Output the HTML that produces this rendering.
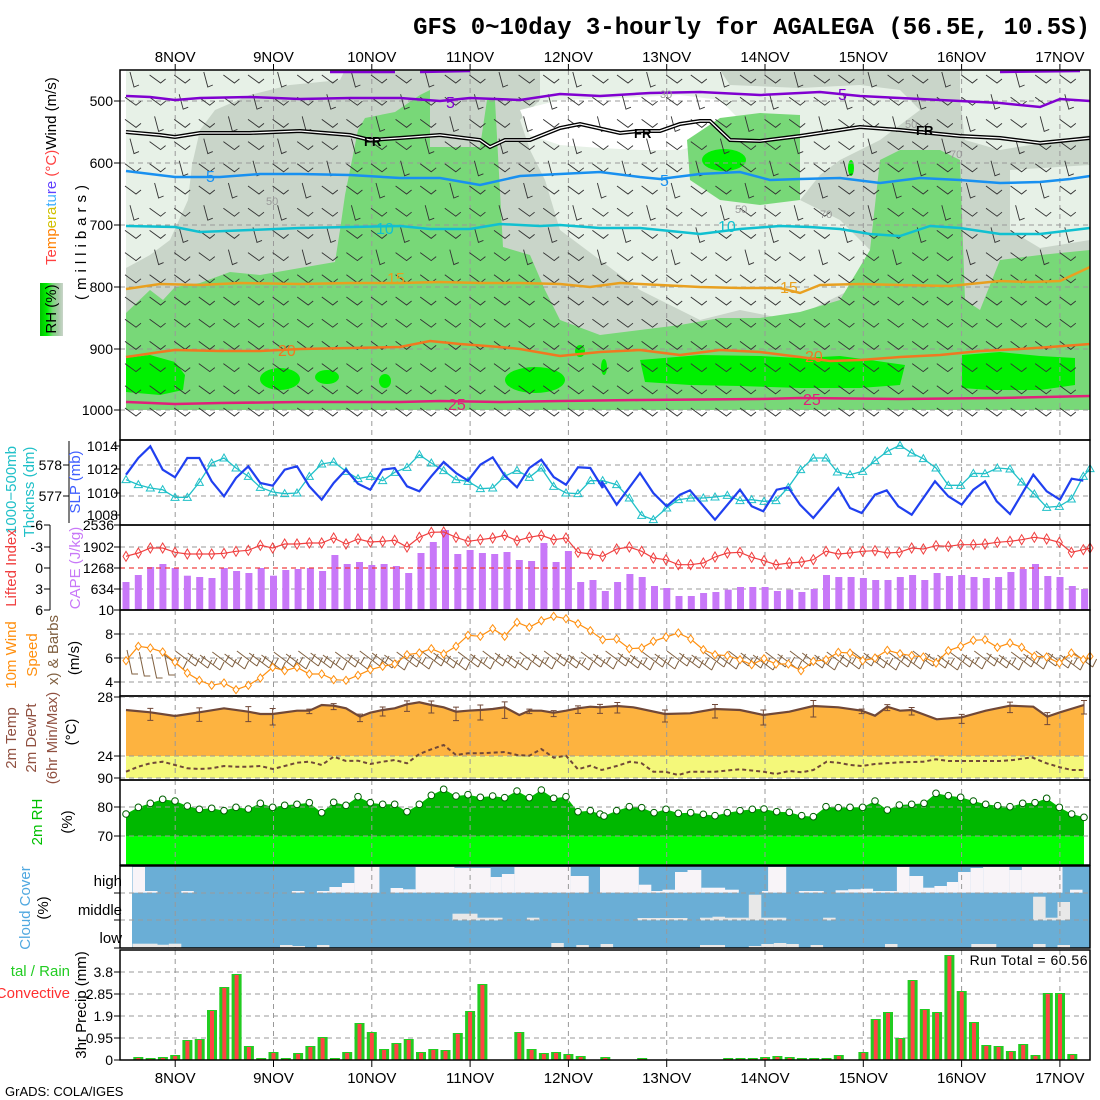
<!DOCTYPE html>
<html><head><meta charset="utf-8">
<style>
html,body{margin:0;padding:0;background:#fff;}
svg{display:block;font-family:"Liberation Sans",sans-serif;}
</style></head>
<body>
<svg id="s" width="1100" height="1100" viewBox="0 0 1100 1100" xmlns="http://www.w3.org/2000/svg">
<rect width="1100" height="1100" fill="#fff"/>
<text x="1090" y="34" text-anchor="end" font-family="Liberation Mono, monospace" font-size="24" font-weight="bold" fill="#000">GFS 0~10day 3-hourly for AGALEGA (56.5E, 10.5S)</text>
<g id="g"></g>
</svg>
<script>
(function(){
var out=[];
function P(s){out.push(s);}
function pts(a){return a.map(function(p){return p[0].toFixed(1)+','+p[1].toFixed(1);}).join(' ');}
function tz(a,ox,oy,sx,sy){return a.map(function(p){return [ox+p[0]/sx, oy+p[1]/sy];});}
function line(a,c,w,extra){P('<polyline points="'+pts(a)+'" fill="none" stroke="'+c+'" stroke-width="'+w+'" '+(extra||'')+'/>');}
function poly(a,c){P('<polygon points="'+pts(a)+'" fill="'+c+'"/>');}
function text(x,y,t,o){o=o||{};P('<text x="'+x+'" y="'+y+'" font-size="'+(o.fs||14)+'" fill="'+(o.c||'#000')+'" text-anchor="'+(o.a||'end')+'"'+(o.ls?' letter-spacing="'+o.ls+'"':'')+'>'+t+'</text>');}
function rtext(x,y,t,c,fs,ls){P('<text transform="translate('+x+','+y+') rotate(-90)" font-size="'+(fs||15)+'" fill="'+(c||'#000')+'" text-anchor="middle"'+(ls?' letter-spacing="'+ls+'"':'')+'>'+t+'</text>');}
var X=function(i){return 126+12.29*i;};
var days=['8NOV','9NOV','10NOV','11NOV','12NOV','13NOV','14NOV','15NOV','16NOV','17NOV'];
var DX=function(k){return 175.2+98.3*k;};

// ===== TOP PANEL =====
P('<rect x="126" y="70" width="964" height="340" fill="#c9d5c9"/>');
poly([[126,70],[345,70],[340,80],[290,85],[250,95],[215,110],[200,130],[192,165],[188,200],[170,240],[150,255],[126,268]],'#e7f1e7');
poly([[540,70],[720,70],[730,85],[800,88],[860,85],[900,90],[920,110],[880,140],[840,160],[820,175],[800,200],[840,220],[860,240],[880,260],[900,280],[860,285],[830,300],[790,320],[740,310],[700,320],[660,300],[640,290],[600,260],[560,230],[545,180],[530,150],[520,120],[540,100]],'#e7f1e7');
poly([[520,110],[560,100],[620,98],[680,95],[720,100],[740,120],[720,140],[680,150],[640,150],[600,148],[560,145],[530,135]],'#ffffff');
poly([[960,70],[1090,70],[1090,135],[1000,150],[965,140],[960,100]],'#e7f1e7');
poly([[1010,170],[1090,165],[1090,240],[1040,248],[1010,230]],'#e7f1e7');
poly([[126,410],[126,313],[150,290],[163,300],[175,287],[200,283],[230,272],[260,275],[300,268],[335,262],[340,230],[345,195],[350,170],[358,130],[365,118],[395,112],[420,95],[430,90],[430,147],[480,147],[487,100],[495,100],[503,247],[530,255],[545,290],[560,320],[600,335],[640,330],[680,325],[720,318],[760,318],[800,312],[840,300],[870,250],[880,160],[900,150],[940,150],[960,160],[965,300],[980,310],[1000,260],[1040,255],[1090,250],[1090,410]],'#78d878');
poly([[687,140],[720,118],[760,113],[800,115],[800,200],[760,205],[720,200],[690,180]],'#78d878');
var bg='#00f000';
function ell(cx,cy,rx,ry){P('<ellipse cx="'+cx+'" cy="'+cy+'" rx="'+rx+'" ry="'+ry+'" fill="'+bg+'"/>');}
poly([[126,358],[150,355],[175,362],[185,375],[183,390],[160,395],[126,392]],bg);
ell(280,379,20,11);ell(327,377,12,7);ell(385,381,6,7);ell(535,380,30,13);ell(580,351,5,6);ell(604,367,3,8);
poly([[640,360],[700,355],[760,356],[800,358],[840,356],[870,360],[905,365],[900,385],[860,388],[800,388],[740,386],[690,385],[645,382]],bg);
ell(724,160,22,11);ell(851,168,3,8);
poly([[962,355],[1000,352],[1040,356],[1075,358],[1075,385],[1040,390],[990,390],[962,388]],bg);

for(var k=0;k<10;k++){P('<line x1="'+DX(k)+'" y1="70" x2="'+DX(k)+'" y2="440" stroke="#999" stroke-dasharray="5,4" stroke-width="1"/>');}
var lev=[[500,101],[600,163],[700,225],[800,287],[900,349],[1000,410]];
lev.forEach(function(l){P('<line x1="120" y1="'+l[1]+'" x2="1090" y2="'+l[1]+'" stroke="#999" stroke-dasharray="5,4" stroke-width="1"/>');P('<line x1="114" y1="'+l[1]+'" x2="120" y2="'+l[1]+'" stroke="#000"/>');text(113,l[1]+5,l[0],{fs:14});});

// barbs top (smaller)
var bb=[];
for(var r=0;r<16;r++){var y=80+22.2*r;for(var c=0;c<39;c++){var x=132+24.6*c;
 var steep=(y<260)?((c+r)%3==0):false;
 if(steep){bb.push('M'+(x-2)+','+(y-8)+'L'+(x+2)+','+(y+7)+'L'+(x+7)+','+(y+5));}
 else{bb.push('M'+(x-7)+','+(y-5)+'L'+(x+4)+','+(y+3)+'L'+(x+9)+','+(y-1));}
}}
P('<path d="'+bb.join('')+'" stroke="#333" stroke-width="0.9" fill="none"/>');

line([[126,96],[150,97],[175,100],[200,98],[250,97],[300,99],[350,98],[400,98],[440,101],[470,98],[520,100],[560,94],[600,96],[650,93],[700,92],[760,95],[820,92],[860,96],[900,98],[940,100],[1000,103],[1040,107],[1060,99],[1090,101]],'#8000d0',2.5);
line([[330,72],[395,72]],'#8000d0',2.5);line([[420,72],[470,71]],'#8000d0',2.5);line([[1000,72],[1080,71]],'#8000d0',2.5);
var fr=[[126,132],[160,135],[175,137],[200,133],[250,133],[300,131],[350,135],[370,140],[400,138],[440,135],[480,140],[490,147],[505,140],[530,140],[560,128],[580,124],[620,133],[640,131],[660,131],[680,124],[700,121],[710,121],[730,140],[760,141],[800,136],[860,127],[900,130],[960,136],[1000,138],[1040,143],[1060,141],[1090,138]];
line(fr,'#000',4);line(fr,'#fff',1.3);
line([[126,171],[175,177],[220,177],[260,174],[300,174],[350,175],[400,178],[440,178],[480,185],[520,176],[560,174],[600,172],[640,177],[660,179],[700,174],[740,172],[770,180],[800,179],[840,178],[880,183],[920,178],[960,180],[1000,183],[1040,182],[1070,179],[1090,176]],'#1890f0',2.5);
line([[126,226],[175,227],[200,232],[250,230],[300,228],[350,227],[400,226],[430,229],[470,229],[500,224],[540,226],[560,225],[600,228],[640,228],[680,232],[700,234],[740,229],[780,226],[810,227],[840,229],[870,234],[900,236],[930,226],[960,228],[1000,234],[1040,234],[1090,228]],'#10c0d0',2.5);
line([[126,289],[160,284],[200,285],[240,283],[300,284],[350,283],[400,283],[440,282],[480,283],[520,283],[560,284],[590,287],[620,283],[660,285],[700,287],[740,288],[780,288],[800,293],[820,285],[860,284],[900,285],[950,286],[1000,281],[1030,282],[1060,281],[1090,267]],'#e8a020',2.5);
line([[126,357],[160,352],[175,350],[220,351],[260,351],[300,349],[350,348],[400,347],[430,341],[460,344],[500,347],[520,349],[560,356],[600,352],[640,350],[680,355],[720,350],[760,352],[800,357],[830,361],[860,360],[900,357],[940,355],[980,351],[1020,349],[1050,347],[1090,344]],'#f07820',2.5);
line([[126,402],[175,404],[220,403],[300,402],[400,402],[440,401],[500,402],[560,401],[640,400],[760,399],[800,398],[900,399],[1000,398],[1090,396]],'#e0207a',2.5);
function clab(x,y,t,c){text(x,y,t,{fs:16,c:c,a:'start'});}
clab(446,108,'5','#8000d0');clab(838,100,'5','#8000d0');
P('<text x="364" y="146" font-size="13" font-weight="bold" fill="#000">FR</text>');
P('<text x="634" y="138" font-size="13" font-weight="bold" fill="#000">FR</text>');
P('<text x="916" y="135" font-size="13" font-weight="bold" fill="#000">FR</text>');
clab(206,182,'5','#1890f0');clab(660,186,'5','#1890f0');
clab(376,234,'10','#10c0d0');clab(718,232,'10','#10c0d0');
clab(387,284,'15','#e8a020');clab(780,293,'15','#e8a020');
clab(278,356,'20','#f07820');clab(805,362,'20','#f07820');
clab(448,410,'25','#e0207a');clab(803,405,'25','#e0207a');
[[266,205,'50'],[660,98,'30'],[905,128,'50'],[735,213,'50'],[820,218,'70'],[950,158,'70']].forEach(function(a){text(a[0],a[1],a[2],{fs:11,c:'#999',a:'start'});});
P('<rect x="120" y="70" width="970" height="370" fill="none" stroke="#000" stroke-width="1.5"/>');

P('<defs><linearGradient id="rh" x1="0" x2="1"><stop offset="0" stop-color="#00c000"/><stop offset="0.3" stop-color="#00f000"/><stop offset="0.55" stop-color="#78d878"/><stop offset="0.8" stop-color="#a8c8a8"/><stop offset="1" stop-color="#c9d5c9"/></linearGradient></defs>');
P('<rect x="40" y="283" width="23" height="53" fill="url(#rh)"/>');
rtext(56,309,'RH (%)','#000',15);
P('<text transform="translate(56,265) rotate(-90)" font-size="15"><tspan fill="#ff4040">Te</tspan><tspan fill="#ff8000">mp</tspan><tspan fill="#d0c000">era</tspan><tspan fill="#40b0ff">tu</tspan><tspan fill="#6040ff">re</tspan><tspan fill="#ff4040"> (°C)</tspan><tspan fill="#000">Wind (m/s)</tspan></text>');
rtext(86,240,'(millibars)','#000',15,'5');

function panelGrid(y1,y2,hl){for(var k=0;k<10;k++){P('<line x1="'+DX(k)+'" y1="'+y1+'" x2="'+DX(k)+'" y2="'+y2+'" stroke="#999" stroke-dasharray="5,4"/>');}
 (hl||[]).forEach(function(y){P('<line x1="120" y1="'+y+'" x2="1090" y2="'+y+'" stroke="#999" stroke-dasharray="5,4"/>');});}
function frame(y1,y2){P('<rect x="120" y="'+y1+'" width="970" height="'+(y2-y1)+'" fill="none" stroke="#000" stroke-width="1.5"/>');}

// ===== PANEL 2 =====
panelGrid(440,525,[465,496]);
var slp1=[[18,110],[55,60],[91,25],[128,95],[165,118],[202,60],[238,60],[275,130],[312,175],[348,120],[385,85],[421,135],[458,143],[494,95],[531,85],[568,145],[605,185],[641,135],[678,95],[714,137],[751,155],[788,95],[824,90],[861,145],[898,160],[934,115],[971,72],[1008,105],[1044,128],[1081,80],[1118,58],[1154,113],[1191,148],[1228,90],[1264,65],[1301,117],[1338,140],[1374,88],[1411,90],[1448,150]];
var slp2=[[5,130],[50,200],[120,105],[160,165],[200,205],[240,170],[270,157],[345,245],[420,155],[455,205],[490,220],[530,155],[565,148],[600,200],[640,240],[715,150],[750,210],[785,225],[825,170],[860,157],[895,205],[935,230],[1005,130],[1045,175],[1085,200],[1120,155],[1155,130],[1190,190],[1230,228],[1300,110],[1340,160],[1380,185],[1415,122],[1450,128]];
var slp=tz(slp1,120,438,3,3).concat(tz(slp2,600,438,3,3));
var th1=[[18,125],[55,140],[91,150],[128,155],[165,178],[202,178],[238,133],[275,75],[312,60],[348,90],[385,115],[421,148],[458,162],[494,167],[531,165],[568,115],[605,78],[641,72],[678,100],[714,122],[751,115],[788,128],[824,103],[861,88],[898,50],[934,75],[971,98],[1008,125],[1044,130],[1081,152],[1118,150],[1154,115],[1191,97],[1228,118],[1264,90],[1301,145],[1338,165],[1374,167],[1411,128],[1448,128]];
var th2=[[50,140],[88,180],[125,232],[160,245],[200,210],[235,185],[272,180],[310,180],[345,177],[382,172],[420,188],[455,185],[492,190],[528,188],[565,148],[602,95],[640,60],[678,60],[712,102],[750,110],[788,100],[825,68],[862,40],[900,22],[935,45],[970,62],[1008,90],[1045,142],[1082,142],[1120,106],[1155,107],[1192,90],[1230,93],[1265,132],[1303,168],[1340,208],[1378,205],[1414,183],[1450,115],[1470,92]];
var th=tz(th1,120,438,3,3).concat(tz(th2,600,438,3,3));
line(th,'#20c0c8',1.3);
th.forEach(function(p){P('<path d="M'+(p[0]-4)+','+(p[1]+3)+'L'+p[0]+','+(p[1]-4)+'L'+(p[0]+4)+','+(p[1]+3)+'Z" fill="none" stroke="#20c0c8" stroke-width="1"/>');});
line(slp,'#2040f0',2.2);
frame(440,525);
P('<line x1="69" y1="441" x2="69" y2="523" stroke="#000"/>');
[[578,465],[577,496]].forEach(function(a){P('<line x1="63" y1="'+a[1]+'" x2="69" y2="'+a[1]+'" stroke="#000"/>');text(62,a[1]+5,a[0]);});
[[1014,446],[1012,469],[1010,493],[1008,515]].forEach(function(a){P('<line x1="114" y1="'+a[1]+'" x2="120" y2="'+a[1]+'" stroke="#000"/>');text(118,a[1]+5,a[0]);});
rtext(16,490,'1000−500mb','#20c0c8',15);
rtext(34,492,'Thcknss (dm)','#20c0c8',15);
rtext(80,482,'SLP (mb)','#4060ff',15);

// ===== PANEL 3 =====
panelGrid(525,610,[547,589]);
var cape=[432,411,387,378,390,413,417,420,390,399,405,390,413,396,393,390,399,351,378,372,381,378,384,405,345,312,276,348,336,345,348,342,366,369,315,372,339,432,426,459,432,408,417,444,450,474,474,465,462,455,447,447,447,459,455,462,453,411,417,417,420,426,426,417,411,426,405,414,411,417,420,417,402,393,378,414,417,444,453];
cape.forEach(function(v,i){var yt=438+v/3;P('<rect x="'+(X(i)-3.5).toFixed(1)+'" y="'+yt.toFixed(1)+'" width="7" height="'+(610-yt).toFixed(1)+'" fill="#c878f8"/>');});
P('<line x1="120" y1="568" x2="1090" y2="568" stroke="#f04040" stroke-dasharray="5,4" stroke-width="1.2"/>');
var li1=[[18,355],[55,345],[91,330],[128,330],[165,343],[202,348],[238,348],[275,348],[312,346],[348,340],[385,337],[421,322],[458,330],[494,318],[531,318],[568,315],[605,315],[641,300],[678,318],[714,303],[751,312],[788,310],[824,307],[861,327],[898,298],[934,283],[971,282],[1008,298],[1044,310],[1081,305],[1118,300],[1154,292],[1191,308],[1228,298],[1264,292],[1301,305],[1338,300],[1374,343],[1411,348],[1448,355]];
var li2=[[50,333],[88,327],[125,340],[160,360],[198,365],[235,380],[272,380],[310,375],[345,357],[382,345],[420,343],[455,358],[492,368],[528,380],[568,375],[605,372],[640,365],[678,340],[715,348],[750,345],[788,340],[825,338],[862,345],[898,343],[935,330],[970,333],[1008,323],[1045,325],[1082,320],[1120,320],[1155,318],[1192,313],[1230,310],[1265,305],[1303,298],[1340,303],[1378,313],[1414,343],[1450,335],[1470,330]];
var li=tz(li1,120,438,3,3).concat(tz(li2,600,438,3,3));
line(li,'#f04040',1.2);
li.forEach(function(p){P('<path d="M'+(p[0]-3)+','+p[1]+'L'+p[0]+','+(p[1]-5)+'L'+(p[0]+3)+','+p[1]+'L'+p[0]+','+(p[1]+5)+'Z" fill="none" stroke="#f04040" stroke-width="1"/>');});
frame(525,610);
P('<line x1="50" y1="525" x2="50" y2="610" stroke="#000"/>');
[['-6',525],['-3',547],['0',568],['3',589],['6',610]].forEach(function(a){P('<line x1="44" y1="'+a[1]+'" x2="50" y2="'+a[1]+'" stroke="#000"/>');text(43,a[1]+5,a[0]);});
[['2536',525],['1902',547],['1268',568],['634',589],['10',610]].forEach(function(a){P('<line x1="114" y1="'+a[1]+'" x2="120" y2="'+a[1]+'" stroke="#000"/>');text(114,a[1]+5,a[0]);});
rtext(16,568,'Lifted Index','#f04040',15);
rtext(80,568,'CAPE (J/kg)','#c878f8',15);

// ===== PANEL 4 =====
panelGrid(610,696,[634,658,682]);
var wb=[];
for(var i=0;i<79;i++){var x=X(i),y=662+((i*7)%5)-2;
 if(i<4){wb.push('M'+(x+1)+','+(y-10)+'L'+(x+6)+','+(y+14)+'L'+(x+12)+','+(y+14));}
 else{wb.push('M'+(x-12)+','+(y-9)+'L'+(x+8)+','+(y+6)+'M'+(x+8)+','+(y+6)+'L'+(x+12)+','+(y-2)+'M'+(x+1)+','+(y+1)+'L'+(x+5)+','+(y-6));}}
P('<path d="'+wb.join('')+'" stroke="#806040" stroke-width="1" fill="none"/>');
var ws1=[[18,668],[55,625],[91,630],[128,642],[165,672],[202,705],[238,727],[275,742],[312,735],[348,755],[385,742],[421,720],[458,688],[494,698],[531,688],[568,708],[605,708],[641,725],[678,727],[714,712],[751,695],[788,685],[824,678],[861,650],[898,645],[934,632],[971,648],[1008,625],[1044,592],[1081,595],[1118,572],[1154,595],[1191,553],[1228,568],[1264,548],[1301,535],[1338,542],[1374,557],[1411,578],[1448,605]];
var ws2=[[50,603],[88,632],[125,630],[160,610],[198,597],[235,585],[272,603],[310,635],[345,650],[382,653],[420,665],[455,680],[492,662],[528,678],[565,678],[603,698],[640,670],[678,665],[715,643],[750,645],[788,668],[825,660],[862,637],[900,647],[935,653],[970,657],[1008,675],[1045,638],[1082,625],[1120,607],[1155,605],[1192,628],[1230,615],[1265,628],[1303,655],[1340,657],[1378,675],[1414,645],[1450,665],[1470,655]];
var ws=tz(ws1,120,438,3,3).concat(tz(ws2,600,438,3,3));
line(ws,'#ff9010',1.2);
ws.forEach(function(p){P('<path d="M'+(p[0]-3)+','+p[1]+'L'+p[0]+','+(p[1]-4)+'L'+(p[0]+3)+','+p[1]+'L'+p[0]+','+(p[1]+4)+'Z" fill="#fff" stroke="#ff9010" stroke-width="1"/>');});
frame(610,696);
[['8',634],['6',658],['4',682]].forEach(function(a){P('<line x1="114" y1="'+a[1]+'" x2="120" y2="'+a[1]+'" stroke="#000"/>');text(113,a[1]+5,a[0]);});
rtext(16,655,'10m Wind','#ff9010',15);
rtext(37,655,'Speed','#ff9010',15);
rtext(58,650,'x) &amp; Barbs','#806040',15);
rtext(79,658,'(m/s)','#000',15);

// ===== PANEL 5 =====
var t1=[[18,60],[91,67],[165,78],[238,67],[312,55],[385,65],[421,72],[458,72],[531,62],[568,62],[605,45],[641,47],[678,55],[720,80],[751,68],[788,60],[824,55],[861,43],[898,37],[934,45],[971,52],[1008,65],[1044,62],[1081,60],[1118,57],[1154,52],[1198,75],[1228,62],[1264,62],[1301,68],[1338,62],[1374,55],[1411,50],[1440,52]];
var t2=[[0,52],[52,48],[100,52],[195,72],[270,70],[345,57],[420,60],[490,75],[568,65],[640,48],[715,52],[785,62],[825,77],[862,50],[900,62],[935,60],[1010,88],[1085,82],[1157,62],[1230,47],[1300,50],[1342,80],[1380,67],[1452,45]];
var tt=tz(t1,120,690,3,3).concat(tz(t2,600,690,3,3));
var x0=tt[0][0],x1=tt[tt.length-1][0];
P('<rect x="'+x0+'" y="756" width="'+(x1-x0)+'" height="22" fill="#f4f87a"/>');
poly([[x0,756]].concat(tt).concat([[x1,756]]),'#fdb340');
panelGrid(696,780,[697,756,778]);
var d1=[[18,245],[55,230],[91,220],[128,215],[165,225],[202,235],[238,237],[275,235],[312,228],[348,230],[385,230],[421,228],[458,237],[494,228],[531,218],[568,215],[605,225],[641,200],[678,213],[714,212],[751,222],[788,215],[824,210],[861,220],[898,192],[934,178],[971,165],[1008,195],[1044,190],[1081,190],[1118,188],[1154,186],[1191,195],[1228,197],[1264,177],[1301,203],[1338,197],[1374,238],[1411,227],[1440,238]];
var d2=[[5,240],[50,228],[90,215],[125,220],[160,245],[195,245],[235,255],[270,245],[345,245],[420,238],[490,245],[528,252],[568,243],[605,247],[640,240],[680,215],[715,218],[750,225],[785,228],[825,222],[900,217],[970,215],[1008,208],[1045,213],[1200,213],[1240,210],[1295,202],[1340,220],[1380,232],[1415,240],[1452,240]];
var dd=tz(d1,120,690,3,3).concat(tz(d2,600,690,3,3));
line(dd,'#704838',2,'stroke-dasharray="4,3"');
line(tt,'#704838',2.2);
for(var i=1;i<tt.length;i+=2){var p=tt[i],h=3+((i*5)%9);P('<path d="M'+p[0]+','+(p[1]-h/2)+'V'+(p[1]+h)+'M'+(p[0]-3)+','+(p[1]-h/2)+'H'+(p[0]+3)+'M'+(p[0]-3)+','+(p[1]+h)+'H'+(p[0]+3)+'" stroke="#704838" stroke-width="1" fill="none"/>');}
frame(696,780);
[['28',697],['24',756],['90',778]].forEach(function(a){P('<line x1="114" y1="'+a[1]+'" x2="120" y2="'+a[1]+'" stroke="#000"/>');text(113,a[1]+5,a[0]);});
rtext(16,738,'2m Temp','#905040',15);
rtext(36,738,'2m DewPt','#905040',15);
rtext(57,738,'(6hr Min/Max)','#905040',15);
rtext(76,732,'(°C)','#000',15);

// ===== PANEL 6 =====
var r1=[[18,372],[55,352],[91,340],[128,328],[165,333],[202,348],[238,358],[275,355],[312,362],[348,352],[385,357],[421,340],[458,352],[494,346],[531,343],[568,338],[605,368],[641,337],[678,346],[714,320],[751,338],[788,343],[824,343],[861,365],[898,343],[934,316],[971,298],[1008,318],[1044,314],[1081,322],[1118,318],[1154,323],[1191,303],[1228,323],[1264,300],[1301,325],[1338,320],[1374,365],[1411,362],[1440,372]];
var r2=[[12,378],[50,362],[88,350],[125,353],[162,368],[198,358],[235,370],[272,368],[310,373],[345,377],[382,368],[420,362],[457,358],[492,357],[530,365],[568,367],[605,377],[640,380],[678,350],[715,353],[750,352],[788,352],[825,333],[862,360],[898,345],[935,343],[972,340],[1008,310],[1045,317],[1082,322],[1120,333],[1157,343],[1193,347],[1230,350],[1268,340],[1305,338],[1340,325],[1378,352],[1415,372],[1452,382]];
var rr=tz(r1,120,690,3,3).concat(tz(r2,600,690,3,3));
var rx0=rr[0][0],rx1=rr[rr.length-1][0];
poly([[rx0,865]].concat(rr).concat([[rx1,865]]),'#00b800');
P('<rect x="'+rx0+'" y="836" width="'+(rx1-rx0)+'" height="29" fill="#00ff00"/>');
panelGrid(780,865,[807,836]);
rr.forEach(function(p){P('<circle cx="'+p[0]+'" cy="'+p[1]+'" r="3.3" fill="#fff" stroke="#006000" stroke-width="1"/>');});
frame(780,865);
[['80',807],['70',836]].forEach(function(a){P('<line x1="114" y1="'+a[1]+'" x2="120" y2="'+a[1]+'" stroke="#000"/>');text(113,a[1]+5,a[0]);});
rtext(42,822,'2m RH','#00c000',15);
rtext(72,822,'(%)','#000',15);

// ===== PANEL 7 =====
P('<rect x="132" y="866" width="958" height="82" fill="#6aaed6"/>');
function crs(list,c){list.forEach(function(a){var x1=120+a[0]/1.6,x2=120+a[1]/1.6,y1=862+a[2]/3,y2=862+a[3]/3;P('<rect x="'+x1.toFixed(1)+'" y="'+y1.toFixed(1)+'" width="'+(x2-x1).toFixed(1)+'" height="'+(y2-y1).toFixed(1)+'" fill="'+c+'"/>');});}
crs([[20,40,15,92],[40,60,87,92],[98,118,87,92],[275,295,87,92],[315,335,87,92],[335,355,75,92],[355,375,63,92],[375,415,15,92],[433,453,78,92],[453,473,82,92],[473,535,15,92],[535,593,18,92],[593,611,45,92],[611,631,36,92],[631,721,15,92],[721,750,42,92],[768,830,15,92],[830,850,68,92],[850,868,87,92],[868,888,83,92],[888,908,30,92],[908,930,24,92],[930,968,77,92],[968,990,83,92],[1027,1037,87,92],[1037,1066,15,92],[1086,1126,87,92],[1145,1165,85,92],[1165,1185,82,92],[1185,1205,80,92],[1205,1243,87,92],[1243,1263,15,92],[1263,1285,42,92],[1285,1303,77,92],[1303,1323,72,92],[1323,1341,60,92],[1341,1361,30,92],[1361,1381,18,92],[1381,1423,15,92],[1423,1443,24,92],[1443,1508,15,92],[1520,1540,83,92]],'#f8f4f8');
crs([[532,572,155,175],[572,612,167,175],[651,671,167,175],[828,908,168,175],[928,948,167,175],[948,968,164,175],[968,1006,167,175],[1006,1026,98,175],[1026,1066,167,175],[1125,1145,167,175],[1461,1481,104,175],[1481,1500,167,175],[1500,1520,120,175]],'#e8e8e8');
crs([[20,60,245,258],[60,78,248,258],[78,98,245,258],[256,276,249,258],[276,296,252,258],[315,335,249,258],[690,710,243,258],[730,750,249,258],[769,789,246,258],[928,968,249,258],[1006,1026,252,258],[1026,1046,246,258],[1046,1066,243,258],[1066,1086,246,258],[1105,1125,249,258],[1224,1244,246,258],[1362,1402,246,258],[1461,1481,246,258],[1500,1520,249,258]],'#e8e8e8');
panelGrid(866,948,[893,920]);
frame(866,948);
[['high',881],['middle',910],['low',938]].forEach(function(a,j){P('<line x1="114" y1="'+[893,920,948][j]+'" x2="120" y2="'+[893,920,948][j]+'" stroke="#000"/>');text(122,a[1]+5,a[0],{fs:15});});
rtext(30,908,'Cloud Cover','#50a8e0',15);
rtext(48,908,'(%)','#000',15);

// ===== PANEL 8 =====
panelGrid(950,1060,[972,994,1016,1038]);
var pr=[null,1057,1058,1057,1055,1040,1039,1010,987,974,1046,1058,1052,1058,1053,1046,1037,1058,1052,1023,1032,1049,1043,1039,1052,1049,1050,1033,1011,984,1060,1060,1032,1049,1053,1052,1054,1056,1060,1057,1060,1060,1058,1060,1060,1060,1060,1060,1060,1058,1058,1058,1057,1056,1057,1058,1058,1058,1055,1060,1052,1019,1012,1038,980,1009,1012,955,991,1022,1045,1046,1051,1044,1055,993,993,1054];
pr.forEach(function(v,i){if(v===null||v>=1059.5)return;var x=X(i);P('<rect x="'+(x-5).toFixed(1)+'" y="'+v+'" width="10" height="'+(1060-v)+'" fill="#22cc22"/>');P('<rect x="'+(x-2).toFixed(1)+'" y="'+(v+1)+'" width="4" height="'+(1059-v)+'" fill="#ff4444"/>');});
frame(950,1060);
[['3.8',972],['2.85',994],['1.9',1016],['0.95',1038],['0',1060]].forEach(function(a){P('<line x1="114" y1="'+a[1]+'" x2="120" y2="'+a[1]+'" stroke="#000"/>');text(113,a[1]+5,a[0]);});
text(1088,965,'Run Total = 60.56',{fs:14,c:'#000',ls:'0.5'});
text(70,976,'tal / Rain',{fs:15,c:'#22cc22'});
text(70,998,'Convective',{fs:15,c:'#ff3030'});
rtext(86,1005,'3hr Precip (mm)','#000',15);

for(var k=0;k<10;k++){var x=DX(k);
 text(x,62,days[k],{fs:15,a:'middle'});text(x,1083,days[k],{fs:15,a:'middle'});
 P('<line x1="'+x+'" y1="64" x2="'+x+'" y2="70" stroke="#000"/>');P('<line x1="'+x+'" y1="1060" x2="'+x+'" y2="1067" stroke="#000"/>');}
text(5,1096,'GrADS: COLA/IGES',{fs:13,a:'start'});

document.getElementById('g').innerHTML=out.join('');
})();
</script>
</body></html>
